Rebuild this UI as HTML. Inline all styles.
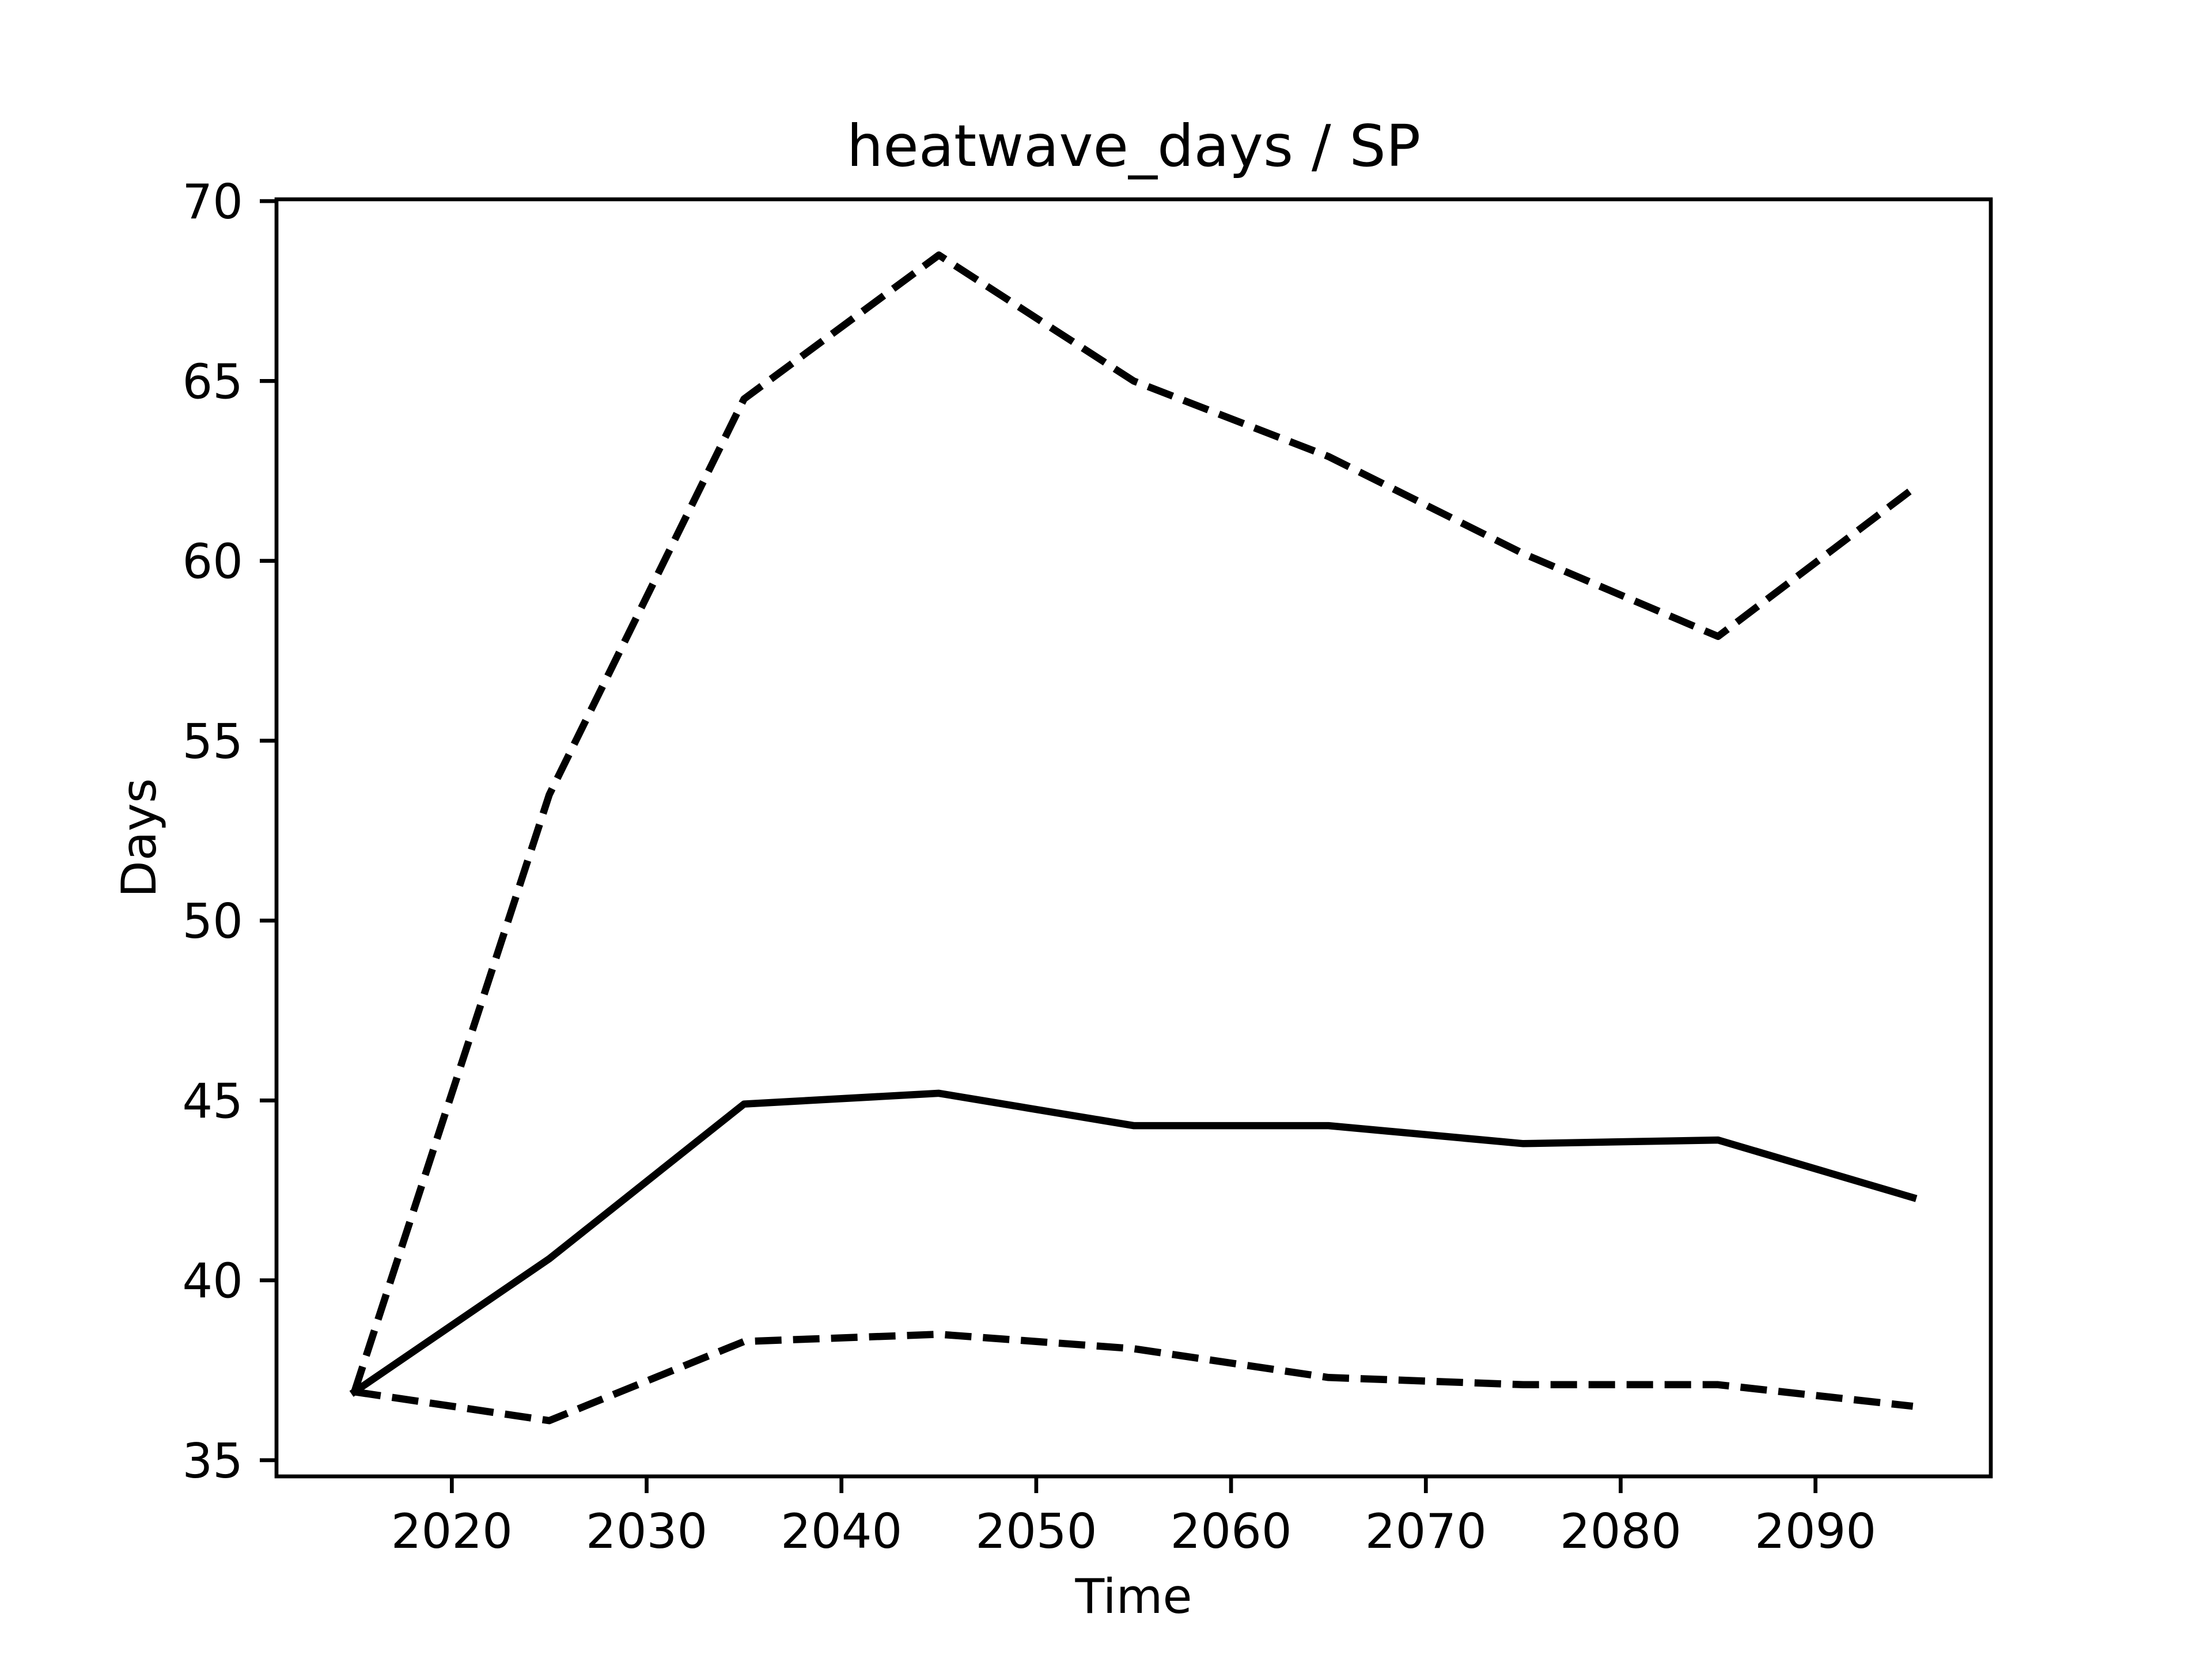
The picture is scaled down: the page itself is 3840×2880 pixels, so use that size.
<!DOCTYPE html>
<html><head><meta charset="utf-8"><style>
html,body{margin:0;padding:0;background:#fff;}
svg{display:block;font-family:"DejaVu Sans","Liberation Sans",sans-serif;}
</style></head><body>
<svg id="chart" width="3840" height="2880" viewBox="0 0 3840 2880" xmlns="http://www.w3.org/2000/svg">
<rect width="3840" height="2880" fill="#fff"/>
<g id="plot"></g>
</svg>
<script>
const years = [2015,2025,2035,2045,2055,2065,2075,2085,2095];
const meanValues = [36.9,40.6,44.9,45.2,44.3,44.3,43.8,43.9,42.3];
const upperValues = [36.9,53.5,64.5,68.5,65.0,62.9,60.2,57.9,62.0];
const lowerValues = [36.9,36.1,38.3,38.5,38.1,37.3,37.1,37.1,36.5];
const xTicks = [2020,2030,2040,2050,2060,2070,2080,2090];
const yTicks = [35,40,45,50,55,60,65,70];

const NS='http://www.w3.org/2000/svg';
const L=480,R=3456,T=346,B=2563;
const xMin=2011,xMax=2099,yMin=34.55,yMax=70.05;
const sx=v=>L+(v-xMin)/(xMax-xMin)*(R-L);
const sy=v=>B-(v-yMin)/(yMax-yMin)*(B-T);
const svg=document.getElementById('chart');
function mk(tag,attrs,parent){const e=document.createElementNS(NS,tag);for(const k in attrs)e.setAttribute(k,attrs[k]);(parent||svg).appendChild(e);return e;}

function series(vals,dash,name){
  const d=vals.map((v,i)=>(i?'L':'M')+sx(years[i]).toFixed(1)+','+sy(v).toFixed(1)).join(' ');
  const p=mk('path',{d:d,fill:'none',stroke:'#000','stroke-width':12.5,'stroke-linecap':dash?'butt':'square','stroke-linejoin':'round'});
  if(dash)p.setAttribute('stroke-dasharray','46 20');
  
  
}
series(upperValues,true,'upper-bound-line');
series(lowerValues,true,'lower-bound-line');
series(meanValues,false,'mean-line');

const frame=mk('rect',{x:L,y:T,width:R-L,height:B-T,fill:'none',stroke:'#000','stroke-width':6.7});



xTicks.forEach(t=>{
  const x=sx(t);
  const ln=mk('line',{x1:x,y1:B,x2:x,y2:B+29,stroke:'#000','stroke-width':6.7});
  
  
  const tx=mk('text',{x:x,y:B+29+29+66,'font-size':83,'text-anchor':'middle'});
  tx.textContent=t;
  
  
});
yTicks.forEach(t=>{
  const y=sy(t);
  const ln=mk('line',{x1:L-29,y1:y,x2:L,y2:y,stroke:'#000','stroke-width':6.7});
  
  
  const tx=mk('text',{x:L-29-29,y:y+30,'font-size':83,'text-anchor':'end'});
  tx.textContent=t;
  
  
});
const title=mk('text',{x:(L+R)/2,y:T-58,'font-size':100,'text-anchor':'middle'});
title.textContent='heatwave_days / SP';


const xl=mk('text',{x:(L+R)/2,y:2800,'font-size':83,'text-anchor':'middle'});
xl.textContent='Time';


const yl=mk('text',{x:0,y:0,'font-size':83,'text-anchor':'middle',transform:'translate(270,'+((T+B)/2)+') rotate(-90)'});
yl.textContent='Days';


</script>
</body></html>
